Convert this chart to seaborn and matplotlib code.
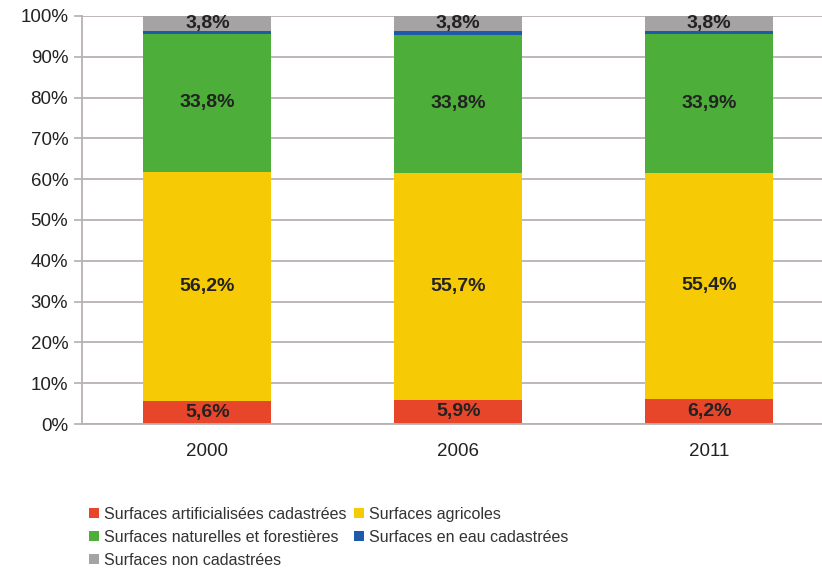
import numpy as np
import pandas as pd
import seaborn as sns
import matplotlib.pyplot as plt
from matplotlib.lines import Line2D

sns.set_theme(style="white")
plt.rcParams["font.family"] = ["Liberation Sans", "DejaVu Sans"]

years = ["2000", "2006", "2011"]
artificial = [5.6, 5.9, 6.2]
agricole = [56.2, 55.7, 55.4]
naturel = [33.8, 33.8, 33.9]
non_cad = [3.8, 3.8, 3.8]
# water: remainder up to 100 %
eau = [100 - a - b - c - d for a, b, c, d in zip(artificial, agricole, naturel, non_cad)]

names = ["Surfaces artificialisées cadastrées", "Surfaces agricoles",
         "Surfaces naturelles et forestières", "Surfaces en eau cadastrées",
         "Surfaces non cadastrées"]
colors = ["#e8462a", "#f6cb05", "#4dae3a", "#1f5aa8", "#a5a3a4"]
series = [artificial, agricole, naturel, eau, non_cad]

df = pd.DataFrame({"year": years})
cum = np.zeros(len(years))
cums = []
for s in series:
    cum = cum + np.array(s)
    cums.append(cum.copy())

fig = plt.figure(figsize=(8.22, 5.70), dpi=100)
ax = fig.add_axes([0.0998, 0.2561, 0.9002, 0.7159])

# stacked bars: draw the cumulative totals from the top down
for i in range(len(series) - 1, -1, -1):
    df["v"] = cums[i]
    sns.barplot(data=df, x="year", y="v", color=colors[i], width=0.51,
                saturation=1, ax=ax, zorder=2, linewidth=0)

# labels
for i in [0, 1, 2, 4]:
    for j in range(len(years)):
        mid = cums[i][j] - series[i][j] / 2
        ax.text(j, mid, f"{series[i][j]:.1f}%".replace(".", ","), ha="center",
                va="center", fontsize=14, fontweight="bold", color="#222222", zorder=3)

ax.set_ylim(0, 100)
ax.set_xlim(-0.5, 2.45)
ax.set_yticks(np.arange(0, 101, 10))
ax.set_yticklabels([f"{v}%" for v in range(0, 101, 10)])
ax.yaxis.grid(True, color="#b9b1b1", linewidth=1.3, zorder=0)
ax.set_axisbelow(True)
ax.set(xlabel="", ylabel="")
for sp in ["top", "right"]:
    ax.spines[sp].set_visible(False)
ax.spines["left"].set_color("#b9b1b1")
ax.spines["left"].set_linewidth(1.3)
ax.spines["bottom"].set_color("#b9b1b1")
ax.spines["bottom"].set_linewidth(1.3)
ax.tick_params(axis="y", left=True, length=6, color="#b9b1b1", labelsize=13.5,
               labelcolor="#222222", pad=4)
ax.tick_params(axis="x", bottom=False, labelsize=13.5, labelcolor="#222222", pad=8)

order = [0, 2, 4, 1, 3]
handles = [Line2D([], [], marker="s", linestyle="", markersize=7.5,
                  markerfacecolor=colors[k], markeredgewidth=0) for k in order]
fig.legend(handles, [names[k] for k in order], ncol=2, loc="upper left",
           bbox_to_anchor=(0.099, 0.125), frameon=False, fontsize=11.5,
           handlelength=0.6, handletextpad=0.3, columnspacing=0.5,
           labelspacing=0.5, labelcolor="#333333", borderpad=0)

fig.savefig("out.png", dpi=100)
